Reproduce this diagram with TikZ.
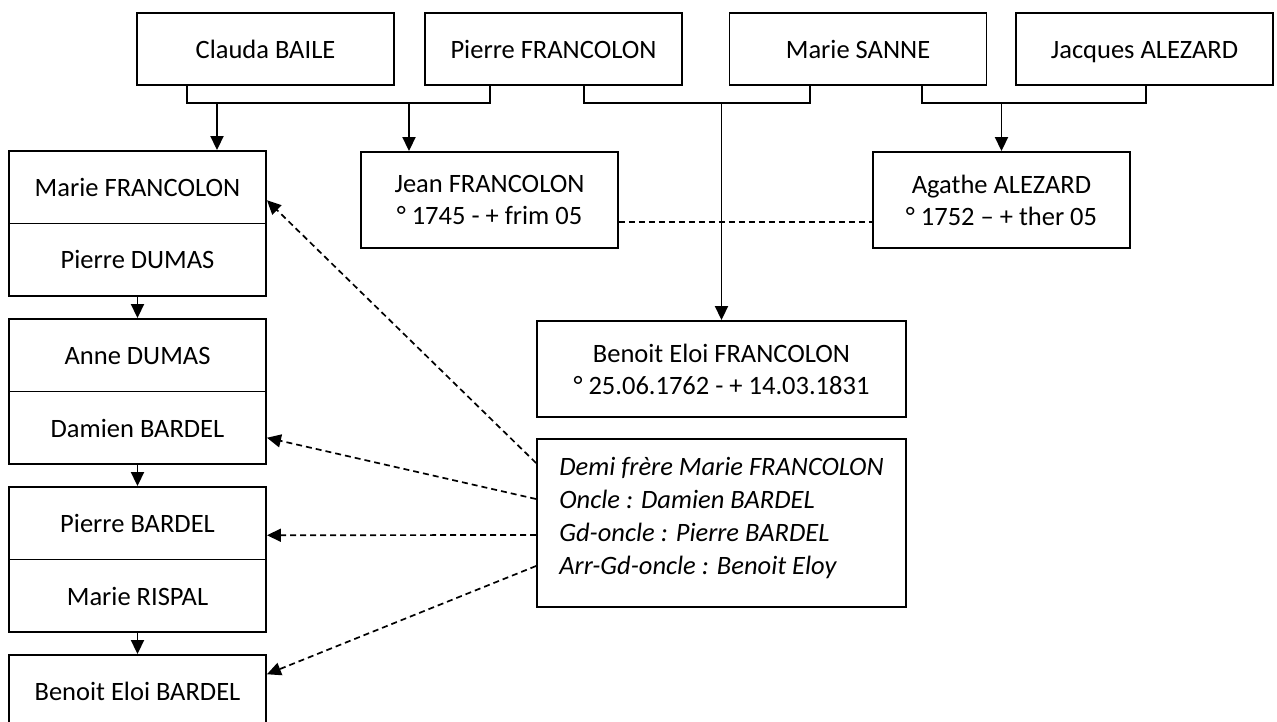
\documentclass[tikz,border=0pt]{standalone}
\usepackage{fontspec}
\setmainfont{Carlito}
\usepackage{tikz}
\usetikzlibrary{arrows.meta}

\begin{document}
\begin{tikzpicture}[x=1pt,y=-1pt,line width=1.9pt,
            >={Triangle[length=14pt,width=13pt]},
            box/.style={draw,inner sep=0pt,minimum width=257pt,minimum height=72.5pt,
                align=center,font=\fontsize{26.5}{32}\selectfont},
            namebox/.style={box,text height=18.5pt,text depth=0pt},
            datebox/.style={box,minimum height=96pt},
            dashlink/.style={dash pattern=on 6pt off 4pt,line width=1.7pt}]
            \useasboundingbox (0,0) rectangle (1277,722);
            % parents
            \node[namebox,minimum height=72pt] (claude) at (265.5,49) {Clauda BAILE};
            \node[namebox,minimum height=72pt] (pierref) at (553.5,49) {Pierre FRANCOLON};
            \node[namebox,minimum height=72pt] (maries) at (858,49) {Marie SANNE};
            \node[namebox,minimum height=72pt] (jacques) at (1144.5,49) {Jacques ALEZARD};
            % children
            \node[datebox] (jean) at (489.5,200) {Jean FRANCOLON\\° 1745 - + frim 05};
            \node[datebox] (agathe) at (1001.5,200) {Agathe ALEZARD\\° 1752 -- + ther 05};
            \node[datebox,minimum width=369pt] (benoitf) at (721.5,369)
                {Benoit Eloi FRANCOLON\\° 25.06.1762 - + 14.03.1831};
            \node[box,minimum width=369pt,minimum height=168pt,align=left,
                font=\fontsize{26.5}{33}\selectfont\itshape] (note) at (721.5,523)
                {Demi frère Marie FRANCOLON\\Oncle : Damien BARDEL\\Gd-oncle : Pierre BARDEL\\Arr-Gd-oncle : Benoit Eloy\\[-19pt]~};
            % left column
            \node[namebox] (mariefr) at (137.5,187.25) {Marie FRANCOLON};
            \node[namebox] (pdumas) at (137.5,259.75) {Pierre DUMAS};
            \node[namebox] (anne) at (137.5,355.25) {Anne DUMAS};
            \node[namebox] (damien) at (137.5,427.75) {Damien BARDEL};
            \node[namebox] (pbardel) at (137.5,523.25) {Pierre BARDEL};
            \node[namebox] (mrispal) at (137.5,595.75) {Marie RISPAL};
            \node[namebox] (benoitb) at (137.5,691.25) {Benoit Eloi BARDEL};
            % couples
            \coordinate (ca) at (187,103);
            \coordinate (cb) at (490,103);
            \coordinate (cc) at (584,103);
            \coordinate (cd) at (810,103);
            \coordinate (ce) at (922,103);
            \coordinate (cf) at (1146,103);
            \draw (claude.south -| ca) -- (ca) -- (cb) -- (pierref.south -| cb);
            \draw (pierref.south -| cc) -- (cc) -- (cd) -- (maries.south -| cd);
            \draw (maries.south -| ce) -- (ce) -- (cf) -- (jacques.south -| cf);
            \coordinate (da) at (217,103);
            \coordinate (db) at (409,103);
            \coordinate (dc) at (721.5,103);
            \coordinate (dd) at (1001.5,103);
            \draw[->] (da) -- (da |- mariefr.north);
            \draw[->] (db) -- (db |- jean.north);
            \draw[->] (dc) -- (benoitf.north);
            \draw[->] (dd) -- (agathe.north);
            \foreach \a/\b in {pdumas/anne, damien/pbardel, mrispal/benoitb}
                \draw[->] (\a.south) -- (\b.north);
            \draw[dashlink] ([yshift=-22pt]jean.east) -- ([yshift=-22pt]agathe.west);
            % links from the note
            \draw[dashlink,->] ([yshift=60pt]note.west) -- ([yshift=-13pt]mariefr.east);
            \draw[dashlink,->] ([yshift=24pt]note.west) -- ([yshift=-10pt]damien.east);
            \draw[dashlink,->] ([yshift=-12pt]note.west) -- ([yshift=-12pt]pbardel.east);
            \draw[dashlink,->] ([yshift=-43pt]note.west) -- ([yshift=17pt]benoitb.east);
\end{tikzpicture}
\end{document}
